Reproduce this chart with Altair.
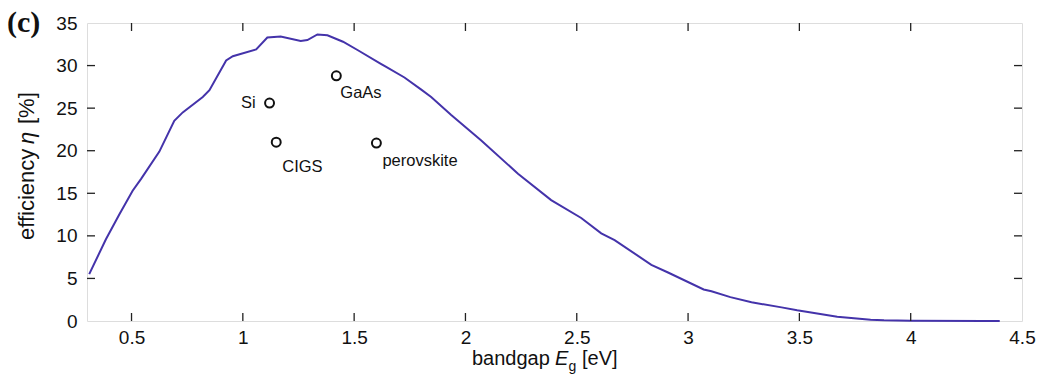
import altair as alt
import pandas as pd

# efficiency curve (bandgap in eV, efficiency in %)
eg = [0.31, 0.385, 0.445, 0.505, 0.543, 0.625, 0.692, 0.73, 0.82, 0.85,
      0.925, 0.955, 1.06, 1.11, 1.17, 1.26, 1.29, 1.335, 1.38, 1.45,
      1.517, 1.62, 1.64, 1.726, 1.80, 1.846, 1.936, 2.071, 2.236, 2.385,
      2.52, 2.61, 2.67, 2.835, 2.91, 3.07, 3.105, 3.19, 3.285, 3.42,
      3.49, 3.67, 3.82, 3.88, 4.0, 4.33, 4.40]
eff = [5.5, 9.6, 12.5, 15.3, 16.7, 19.9, 23.5, 24.5, 26.3, 27.1,
       30.6, 31.1, 31.9, 33.3, 33.4, 32.9, 33.0, 33.65, 33.55, 32.8,
       31.8, 30.2, 29.9, 28.6, 27.2, 26.3, 24.2, 21.2, 17.3, 14.2,
       12.1, 10.3, 9.5, 6.6, 5.7, 3.7, 3.5, 2.8, 2.2, 1.6,
       1.25, 0.5, 0.16, 0.08, 0.02, 0.0, 0.0]

# materials
materials = ["Si", "GaAs", "CIGS", "perovskite"]
mat_eg = [1.12, 1.42, 1.15, 1.60]
mat_eff = [25.6, 28.8, 21.0, 20.9]

x_ticks = [0.5, 1.0, 1.5, 2.0, 2.5, 3.0, 3.5, 4.0, 4.5]
y_ticks = [0, 5, 10, 15, 20, 25, 30, 35]

W, H = 935, 298
FONT = "Liberation Sans"

curve = pd.DataFrame({"eg": eg, "eff": eff})
mats = pd.DataFrame({"name": materials, "eg": mat_eg, "eff": mat_eff})
xt = pd.DataFrame({"v": x_ticks})
yt = pd.DataFrame({"v": y_ticks})
one = pd.DataFrame({"a": [0]})

xs = alt.Scale(domain=[0.3, 4.5], nice=False, zero=False)
ys = alt.Scale(domain=[0, 35], nice=False, zero=True)

xax = alt.Axis(values=x_ticks, format="~g", title=None, ticks=False,
               domain=False, grid=False, labelFont=FONT, labelFontSize=19,
               labelColor="#111", labelPadding=7, labelFlush=False)
yax = alt.Axis(values=y_ticks, format="~g", title=None, ticks=False,
               domain=False, grid=False, labelFont=FONT, labelFontSize=19,
               labelColor="#111", labelPadding=10)


def X(f):
    return alt.X(f, scale=xs, axis=xax)


def Y(f):
    return alt.Y(f, scale=ys, axis=yax)


line = alt.Chart(curve).mark_line(color="#4433aa", strokeWidth=2).encode(
    x=X("eg:Q"), y=Y("eff:Q"))

pts = alt.Chart(mats).mark_point(shape="circle", filled=False, color="#111",
                                 opacity=1, strokeWidth=2, size=80).encode(
    x=X("eg:Q"), y=Y("eff:Q"))

offsets = {"Si": (-14, 0, "right"), "GaAs": (4, 17, "left"),
           "CIGS": (6, 25, "left"), "perovskite": (6, 18, "left")}
labels = []
for nm in materials:
    dx, dy, al = offsets[nm]
    labels.append(
        alt.Chart(mats).transform_filter(alt.datum.name == nm).mark_text(
            font=FONT, fontSize=16.5, color="#111", align=al, baseline="middle",
            dx=dx, dy=dy).encode(x=X("eg:Q"), y=Y("eff:Q"), text="name:N")
    )

tick_style = dict(color="#222", strokeWidth=1.3)
xt_in = xt[(xt.v > 0.3) & (xt.v < 4.5)]
yt_in = yt[(yt.v > 0) & (yt.v < 35)]
tb = alt.Chart(xt_in).mark_rule(**tick_style).encode(
    x=X("v:Q"), y=alt.value(H), y2=alt.value(H - 8))
tt = alt.Chart(xt_in).mark_rule(**tick_style).encode(
    x=X("v:Q"), y=alt.value(0), y2=alt.value(8))
tl = alt.Chart(yt_in).mark_rule(**tick_style).encode(
    y=Y("v:Q"), x=alt.value(0), x2=alt.value(8))
tr = alt.Chart(yt_in).mark_rule(**tick_style).encode(
    y=Y("v:Q"), x=alt.value(W - 8), x2=alt.value(W))


def txt(s, x, y, size=20, style="normal", align="left", angle=0,
        font=FONT, weight="normal"):
    return alt.Chart(one).mark_text(
        text=s, font=font, fontSize=size, fontStyle=style, fontWeight=weight,
        align=align, baseline="alphabetic", angle=angle, color="#111"
    ).encode(x=alt.value(x), y=alt.value(y))


# x-axis title: bandgap E_g [eV]
xb = 342
xtitle = [
    txt("bandgap", 385, xb),
    txt("E", 468, xb, style="italic"),
    txt("g", 481.5, xb + 6, size=14),
    txt("[eV]", 495, xb),
]
# y-axis title: efficiency η [%]
yx = -53.5
ytitle = [
    txt("efficiency", yx, 217, size=22, angle=270),
    txt("η", yx, 121, size=22, angle=270, style="italic"),
    txt("[%]", yx, 101, size=22, angle=270),
]
panel = txt("(c)", -80, 9, size=30, font="Liberation Serif", weight="bold")

chart = alt.layer(line, pts, *labels, tb, tt, tl, tr, *xtitle, *ytitle, panel).properties(
    width=W, height=H,
    autosize=alt.AutoSizeParams(type="none"),
    padding={"left": 87, "top": 23, "right": 1041 - 87 - W, "bottom": 389 - 23 - H},
).configure_view(stroke="#111", strokeWidth=1.5).configure(background="white")

chart.save("out.html", embed_options={"renderer": "svg", "actions": False})
